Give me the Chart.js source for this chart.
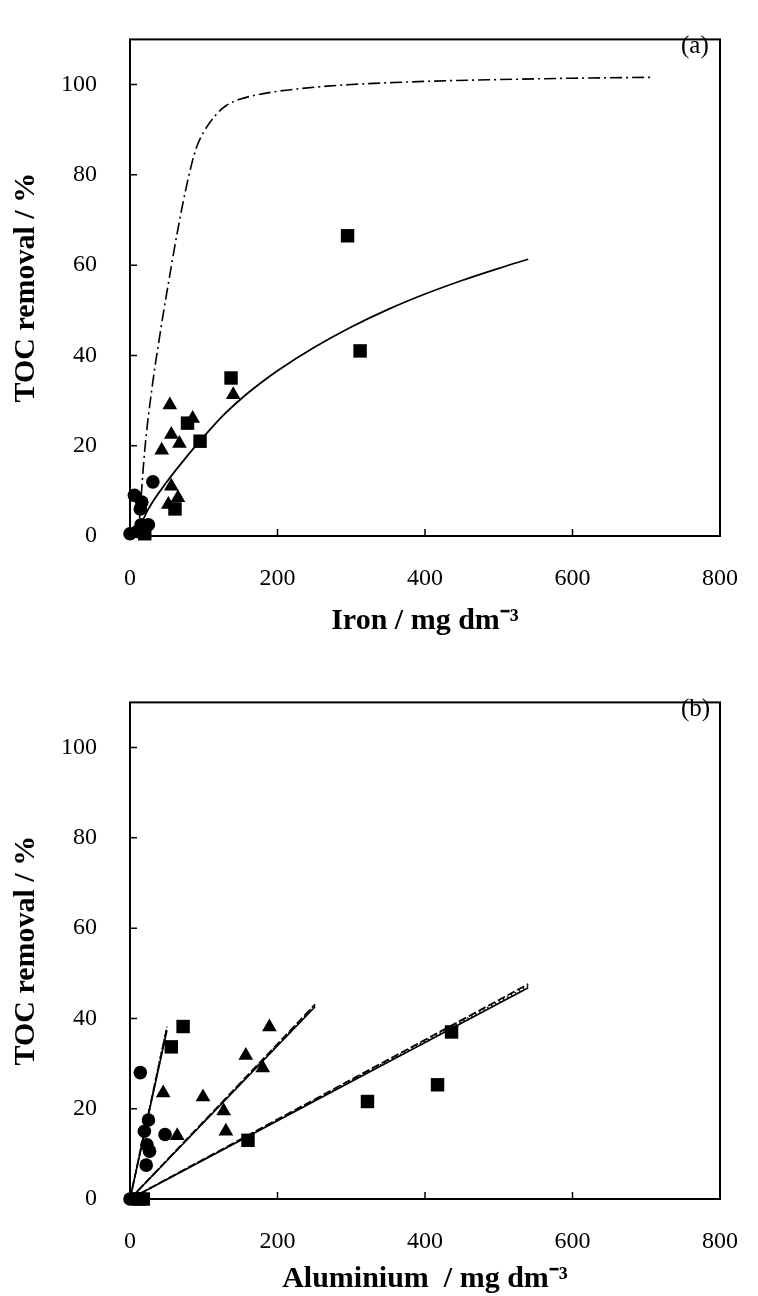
<!DOCTYPE html>
<html><head><meta charset="utf-8">
<script src="https://cdn.jsdelivr.net/npm/chart.js@4.4.1/dist/chart.umd.min.js"></script>
<style>
html,body{margin:0;padding:0;background:#fff;width:758px;height:1296px;overflow:hidden;}
.wrap{position:absolute;left:0;width:758px;}
.tag{position:absolute;font-family:'Liberation Serif',serif;font-size:25px;color:#000;line-height:1;}
</style></head><body>
<div class="wrap" style="top:0;height:663px"><canvas id="c1" width="758" height="663"></canvas></div>
<div class="wrap" style="top:663px;height:633px"><canvas id="c2" width="758" height="633"></canvas></div>
<div class="tag" style="left:681px;top:32px">(a)</div>
<div class="tag" style="left:681px;top:695px">(b)</div>
<script>
const xTicks = [0, 200, 400, 600, 800];
const yTicks = [0, 20, 40, 60, 80, 100];

// (a) Iron
const feSqX  = [20, 61, 78, 95, 137, 295, 312];
const feSqY  = [0.5, 6, 25, 21, 35, 66.5, 41];
const feTriX = [52, 56, 65, 43, 67, 56, 85, 54, 140];
const feTriY = [7, 11, 8.5, 19, 20.5, 22.5, 26, 29, 31.3];
const feCirX = [0, 10, 15, 25, 14, 16, 6, 31];
const feCirY = [0.5, 1, 2.5, 2.5, 6, 7.5, 9, 12];
const feFitX = [8, 25, 50, 75, 100, 125, 150, 175, 200, 250, 300, 350, 400, 450, 500, 540];
const feFitY = [0, 6, 12, 17.2, 22, 26.5, 30.3, 33.6, 36.6, 41.8, 46.3, 50.2, 53.6, 56.6, 59.3, 61.3];
const feModX = [13, 20, 30, 40, 50, 65, 80, 90, 100, 115, 130, 150, 175, 200, 250, 300, 400, 500, 600, 710];
const feModY = [4, 19, 33, 44, 54, 68, 80, 86, 89.5, 93, 95.3, 96.8, 97.8, 98.5, 99.4, 100, 100.7, 101.1, 101.4, 101.6];

// (b) Aluminium
const alSqX  = [12, 18, 56, 72, 160, 322, 417, 436];
const alSqY  = [0, 0, 33.7, 38.2, 13, 21.6, 25.3, 37];
const alTriX = [10, 45, 64, 99, 127, 130, 157, 180, 189];
const alTriY = [0, 23.5, 14, 22.6, 19.5, 15, 31.8, 29, 38.1];
const alCirX = [0, 5, 14, 25, 19.5, 23, 26.5, 22, 47.5];
const alCirY = [0, 0, 28, 17.5, 15, 12, 10.6, 7.5, 14.3];
const alLineX   = [0, 50, 0, 251, 0, 540];
const alSolidY  = [0, 37.3, 0, 42.6, 0, 46.8];
const alDashY   = [0, 37.8, 0, 43.1, 0, 47.6];
const alDotY    = [0, 38.2, 0, 42.9, 0, 47.2];

const F = "'Liberation Serif', 'Times New Roman', serif";
function pts(xs, ys) { return xs.map((x, i) => ({x: x, y: ys[i]})); }
function seg(xs, ys, a) { return [{x: xs[a], y: ys[a]}, {x: xs[a+1], y: ys[a+1]}]; }

function marks(data, style, r) {
  return {data: data, pointStyle: style, pointRadius: r, backgroundColor: '#000', borderColor: '#000',
          borderWidth: 0, showLine: false, clip: false, order: 1};
}
function line(data, dash, w, smooth) {
  return {data: data, showLine: true, pointRadius: 0, borderColor: '#000', borderWidth: w || 1.6,
          borderDash: dash || [], fill: false, order: 2, cubicInterpolationMode: smooth ? 'monotone' : 'default',
          clip: false};
}

const frame = {
  id: 'frame',
  beforeDatasetsDraw(chart) {
    const {ctx, chartArea: a, scales: {x, y}} = chart;
    ctx.save();
    ctx.strokeStyle = '#000';
    ctx.lineWidth = 2;
    ctx.strokeRect(a.left, a.top, a.right - a.left, a.bottom - a.top);
    ctx.lineWidth = 1.5;
    ctx.beginPath();
    xTicks.forEach(v => { const px = x.getPixelForValue(v); ctx.moveTo(px, a.bottom); ctx.lineTo(px, a.bottom - 7); });
    yTicks.forEach(v => { const py = y.getPixelForValue(v); ctx.moveTo(a.left, py); ctx.lineTo(a.left + 7, py); });
    ctx.stroke();
    ctx.restore();
  }
};

function makeChart(id, datasets, xTitle, axisH, titlePad) {
  return new Chart(document.getElementById(id), {
    type: 'scatter',
    data: {datasets: datasets},
    options: {
      responsive: false, animation: false, events: [],
      layout: {padding: {top: 9, right: 24, left: 0, bottom: 0}},
      plugins: {legend: {display: false}, tooltip: {enabled: false}},
      scales: {
        x: {
          type: 'linear', min: 0, max: 800,
          afterBuildTicks: s => { s.ticks = xTicks.map(v => ({value: v})); },
          afterFit: s => { s.height = axisH; },
          grid: {display: false}, border: {display: false},
          ticks: {color: '#000', font: {family: F, size: 24}, padding: 20, maxRotation: 0},
          title: {display: true, text: xTitle, color: '#000',
                  font: {family: F, size: 30, weight: 'bold', lineHeight: 1.1},
                  padding: {top: 0, bottom: titlePad}}
        },
        y: {
          type: 'linear', min: 0, max: 110,
          afterBuildTicks: s => { s.ticks = yTicks.map(v => ({value: v})); },
          afterFit: s => { s.width = 130; },
          grid: {display: false}, border: {display: false},
          ticks: {color: '#000', font: {family: F, size: 24}, padding: 25},
          title: {display: true, text: 'TOC removal / %', color: '#000',
                  font: {family: F, size: 30, weight: 'bold', lineHeight: 1.1},
                  padding: {top: 10, bottom: 0}}
        }
      }
    },
    plugins: [frame]
  });
}

makeChart('c1', [
  line(pts(feModX, feModY), [12, 4, 2, 4], 1.6, true),
  line(pts(feFitX, feFitY), [], 1.8, true),
  marks(pts(feSqX, feSqY), 'rect', 9.5),
  marks(pts(feTriX, feTriY), 'triangle', 8.5),
  marks(pts(feCirX, feCirY), 'circle', 6.8)
], 'Iron / mg dm\u207B\u00B3', 127, 25);

const alSets = [];
[0, 2, 4].forEach(i => {
  alSets.push(line(seg(alLineX, alDashY, i), [8, 3], 1.8));
  alSets.push(line(seg(alLineX, alDotY, i), [1.5, 3], 1.6));
  alSets.push(line(seg(alLineX, alSolidY, i), [], 1.6));
});
makeChart('c2', alSets.concat([
  marks(pts(alSqX, alSqY), 'rect', 9.5),
  marks(pts(alTriX, alTriY), 'triangle', 8.5),
  marks(pts(alCirX, alCirY), 'circle', 6.8)
]), 'Aluminium  / mg dm\u207B\u00B3', 97, 0);
</script>
</body></html>
